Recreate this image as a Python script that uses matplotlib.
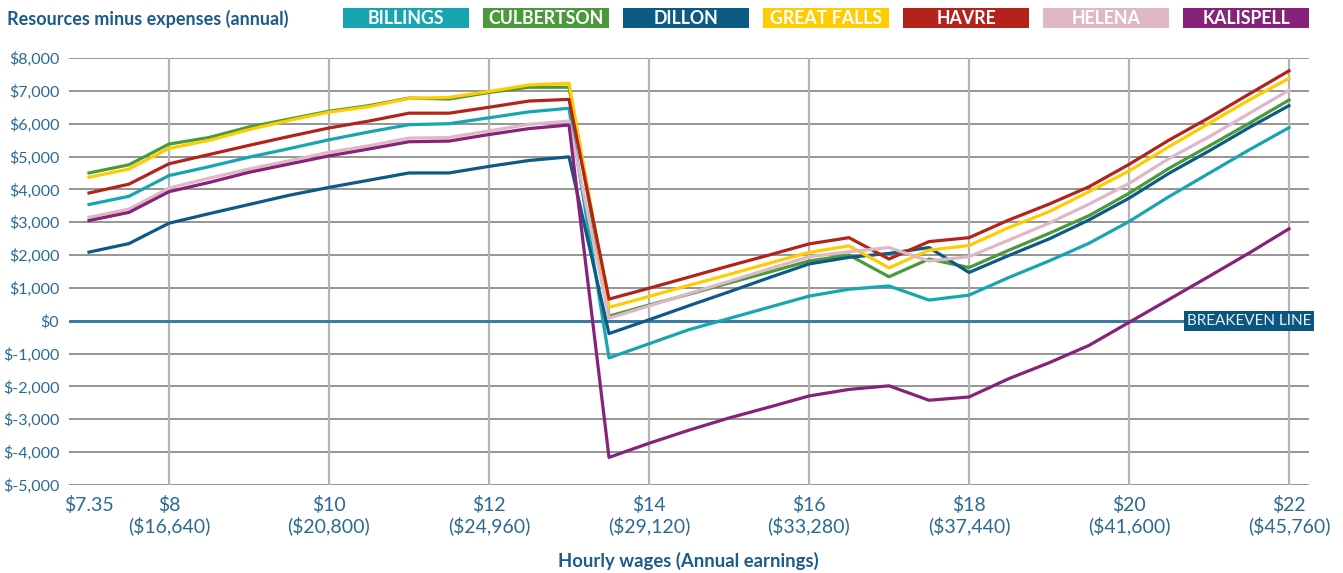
import matplotlib
matplotlib.use('Agg')
import matplotlib.pyplot as plt
from matplotlib.patches import Rectangle

plt.rcParams['font.family'] = ['Lato', 'DejaVu Sans']

# hourly wage points (evenly spaced categories on the chart)
wages = [7.35, 7.5, 8, 8.5, 9, 9.5, 10, 10.5, 11, 11.5, 12, 12.5, 13, 13.5, 14, 14.5,
         15, 15.5, 16, 16.5, 17, 17.5, 18, 18.5, 19, 19.5, 20, 20.5, 21, 21.5, 22]

# resources minus expenses, in dollars
billings = [3540, 3790, 4420, 4690, 4980, 5240, 5510, 5750, 5970, 6000, 6180, 6360, 6470,
            -1130, -700, -270, 70, 410, 750, 960, 1060, 630, 780, 1320, 1820, 2360,
            3020, 3780, 4490, 5200, 5880]
culbertson = [4500, 4750, 5380, 5580, 5900, 6140, 6380, 6550, 6780, 6750, 6950, 7110, 7110,
              140, 480, 810, 1150, 1480, 1820, 2000, 1340, 1880, 1620, 2150, 2660, 3200,
              3880, 4640, 5320, 6010, 6720]
dillon = [2090, 2350, 2970, 3260, 3540, 3820, 4060, 4280, 4500, 4500, 4700, 4880, 4990,
          -390, 30, 460, 880, 1310, 1730, 1930, 2050, 2230, 1470, 1990, 2490, 3070,
          3730, 4490, 5170, 5880, 6550]
great_falls = [4370, 4620, 5250, 5490, 5820, 6100, 6350, 6520, 6770, 6800, 6980, 7180, 7230,
               410, 740, 1080, 1410, 1750, 2080, 2280, 1610, 2150, 2290, 2840, 3320, 3930,
               4560, 5300, 6010, 6720, 7380]
havre = [3890, 4160, 4780, 5060, 5340, 5610, 5870, 6080, 6320, 6320, 6500, 6690, 6740,
         660, 990, 1330, 1670, 2000, 2340, 2530, 1880, 2410, 2530, 3070, 3550, 4080,
         4760, 5500, 6180, 6900, 7610]
helena = [3150, 3400, 4040, 4340, 4620, 4870, 5130, 5330, 5560, 5580, 5780, 5980, 6080,
          80, 450, 830, 1200, 1580, 1950, 2100, 2230, 1820, 1950, 2460, 2970, 3550,
          4180, 4940, 5600, 6310, 7020]
kalispell = [3050, 3300, 3930, 4210, 4520, 4770, 5020, 5230, 5450, 5470, 5670, 5850, 5960,
             -4160, -3730, -3330, -2960, -2630, -2290, -2090, -1980, -2420, -2320, -1760,
             -1280, -750, -50, 650, 1350, 2060, 2800]

series = [('BILLINGS', billings, '#17a5b1'),
          ('CULBERTSON', culbertson, '#4a9a3b'),
          ('DILLON', dillon, '#0d5a84'),
          ('GREAT FALLS', great_falls, '#ffcc00'),
          ('HAVRE', havre, '#b3231b'),
          ('HELENA', helena, '#dfb7c6'),
          ('KALISPELL', kalispell, '#86227a')]

label_wages = [7.35, 8, 10, 12, 14, 16, 18, 20, 22]
annual = [None, 16640, 20800, 24960, 29120, 33280, 37440, 41600, 45760]

txt = '#2a6a93'
W, H = 1343, 573
fig = plt.figure(figsize=(W / 100, H / 100), dpi=100)
ax = fig.add_axes([69 / W, 1 - 485 / H, (1309 - 69) / W, (485 - 58) / H])

x = list(range(len(wages)))
for name, vals, col in series:
    ax.plot(x, vals, color=col, linewidth=2.3, zorder=3)

ax.set_xlim(-0.5, len(wages) - 0.5)
ax.set_ylim(-5000, 8000)

# gridlines
for v in range(-5000, 8001, 1000):
    if v != 0:
        ax.axhline(v, color='#8c8c8c', linewidth=1.3, zorder=1)
ax.axhline(0, color='#3a7ca3', linewidth=2.2, zorder=2)
pos = [wages.index(w) for w in label_wages]
for p in pos[1:]:
    ax.axvline(p, color='#b4b4b4', linewidth=1.6, zorder=1)

# ticks
ax.set_yticks(range(-5000, 8001, 1000))
ax.set_yticklabels(['$' + format(v, ',') for v in range(-5000, 8001, 1000)],
                   fontsize=11.5, color=txt)
ticklabels = []
for w, a in zip(label_wages, annual):
    s = '$' + ('%g' % w if w != 7.35 else '7.35')
    if a is not None:
        s += '\n($' + format(a, ',') + ')'
    ticklabels.append(s)
ax.set_xticks(pos)
ax.set_xticklabels(ticklabels, fontsize=14, color=txt, linespacing=1.15, va='top')
ax.tick_params(length=0, pad=8)
ax.tick_params(axis='y', pad=7)
for s in ax.spines.values():
    s.set_visible(False)

# breakeven label
ax.text(30.55, 0, 'BREAKEVEN LINE', fontsize=11, color='#e6f0f5', ha='right', va='center',
        zorder=5, bbox=dict(boxstyle='square,pad=0.2', fc='#0b5680', ec='none'))

# titles
fig.text(7 / W, 1 - 19 / H, 'Resources minus expenses (annual)', fontsize=13,
         fontweight='bold', color='#1b5c88', va='center', ha='left')
fig.text(688 / W, 1 - 561 / H, 'Hourly wages (Annual earnings)', fontsize=13.3,
         fontweight='bold', color='#1b5c88', va='center', ha='center')

# legend boxes
for i, (name, vals, col) in enumerate(series):
    x0 = 343 + 140 * i
    fig.patches.append(Rectangle((x0 / W, 1 - 28 / H), 126 / W, 20 / H,
                                 transform=fig.transFigure, fc=col, ec='none'))
    fig.text((x0 + 63) / W, 1 - 18.5 / H, name, fontsize=12.8, fontweight='bold',
             color='white', ha='center', va='center')

plt.savefig('out.png', dpi=100)
